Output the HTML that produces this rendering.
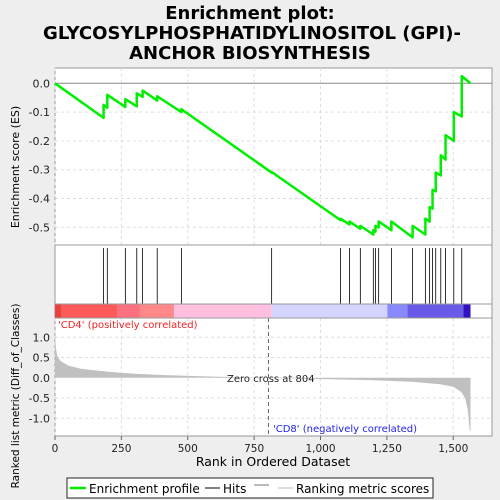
<!DOCTYPE html>
<html><head><meta charset="utf-8"><style>
body{margin:0;background:#eeeeee;}
svg{display:block;font-family:"DejaVu Sans","Liberation Sans",sans-serif;}
</style></head><body>
<svg id="chart" width="500" height="500" viewBox="0 0 500 500" xmlns="http://www.w3.org/2000/svg">
<rect x="0" y="0" width="500" height="500" fill="#eeeeee"/>
<g font-weight="bold" font-size="18" text-anchor="middle" fill="#000">
<text x="250" y="19">Enrichment plot:</text>
<text x="252" y="39" textLength="418" lengthAdjust="spacingAndGlyphs">GLYCOSYLPHOSPHATIDYLINOSITOL (GPI)-</text>
<text x="250" y="59">ANCHOR BIOSYNTHESIS</text>
</g>
<rect x="55" y="68" width="437" height="368" fill="#fff" stroke="#999"/>
<g id="grid"></g>
<g id="es"></g>
<g id="hits"></g>
<g id="cbar"></g>
<g id="metric"></g>
<line x1="55" y1="245" x2="492" y2="245" stroke="#999"/>
<line x1="55" y1="304" x2="492" y2="304" stroke="#999"/>
<line x1="55" y1="318" x2="492" y2="318" stroke="#999"/>
<g id="axes" font-size="11" fill="#222"></g>
<text x="19" y="167" font-size="11" text-anchor="middle" transform="rotate(-90 19 167)">Enrichment score (ES)</text>
<text x="19" y="396" font-size="10.5" text-anchor="middle" transform="rotate(-90 19 396)">Ranked list metric (Diff_of_Classes)</text>
<text x="273" y="466" font-size="12.5" text-anchor="middle">Rank in Ordered Dataset</text>
<text x="58" y="328" font-size="10" fill="#ee2222">'CD4' (positively correlated)</text>
<text x="273" y="432" font-size="10" fill="#2222ee">'CD8' (negatively correlated)</text>
<text x="227" y="382" font-size="10" fill="#222">Zero cross at 804</text>
<g>
<rect x="67" y="478" width="366" height="20" fill="#fff" stroke="#222"/>
<line x1="70" y1="488" x2="86" y2="488" stroke="#00ee00" stroke-width="2.5"/>
<text x="89" y="493" font-size="12">Enrichment profile</text>
<line x1="205" y1="488" x2="220" y2="488" stroke="#000"/>
<text x="223" y="493" font-size="12">Hits</text>
<line x1="254" y1="485" x2="269" y2="485" stroke="#777"/>
<line x1="278" y1="488" x2="293" y2="488" stroke="#bbb"/>
<text x="296" y="493" font-size="12">Ranking metric scores</text>
</g>
</svg>
<script>
const hitRanks=[183,197,265,308,330,385,476,816,1075,1109,1150,1199,1207,1219,1267,1347,1395,1411,1422,1434,1453,1471,1502,1532];
const esBefore=[-0.12,-0.085,-0.082,-0.08,-0.047,-0.06,-0.1,-0.31,-0.475,-0.49,-0.505,-0.525,-0.515,-0.5,-0.51,-0.535,-0.525,-0.48,-0.435,-0.375,-0.32,-0.265,-0.2,-0.115];
const esAfter=[-0.075,-0.04,-0.055,-0.035,-0.025,-0.045,-0.09,-0.308,-0.47,-0.48,-0.495,-0.51,-0.495,-0.48,-0.48,-0.495,-0.47,-0.43,-0.37,-0.31,-0.25,-0.18,-0.10,0.025];
const totalRanks=1565;
const metricRanks=[0,3,8,20,50,100,200,300,400,600,804,1000,1200,1350,1450,1500,1530,1545,1555,1562,1565];
const metricVals=[1.2,0.75,0.55,0.42,0.3,0.22,0.15,0.1,0.07,0.03,0,-0.03,-0.06,-0.1,-0.16,-0.22,-0.35,-0.5,-0.8,-1.3,-1.3];
const barEdges=[0,25,235,320,448,816,1252,1327,1538,1565];
const barColors=["#e84040","#ff5a5a","#ff7080","#ff8888","#ffc0e0","#d4d4ff","#8888ff","#6a5ae8","#3010c0"];
const xTicks=[0,250,500,750,1000,1250,1500];
const xTickLabels=["0","250","500","750","1,000","1,250","1,500"];
const esTicks=[0,-0.1,-0.2,-0.3,-0.4,-0.5];
const esTickLabels=["0.0","-0.1","-0.2","-0.3","-0.4","-0.5"];
const mTicks=[1,0.5,0,-0.5,-1];
const mTickLabels=["1.0","0.5","0.0","-0.5","-1.0"];
const zeroCross=804;

const NS="http://www.w3.org/2000/svg";
const X=r=>55+r*0.2655;
const YE=v=>83.3-v*288;
const YM=v=>377.8-v*40.5;
function mk(tag,attrs,parent){const e=document.createElementNS(NS,tag);for(const k in attrs)e.setAttribute(k,attrs[k]);parent.appendChild(e);return e;}
const grid=document.getElementById('grid'),axes=document.getElementById('axes');
xTicks.forEach((t,i)=>{
  [[68,245],[318,436]].forEach(([a,b])=>{const l=mk('line',{x1:X(t),x2:X(t),y1:a,y2:b,stroke:'#ddd','stroke-dasharray':'3,3'},grid);
  
  });
  const tk=mk('line',{x1:X(t),x2:X(t),y1:436,y2:440,stroke:'#666'},axes);
  
  
  const tx=mk('text',{x:X(t),y:452,'text-anchor':'middle','font-size':'10.5'},axes);tx.textContent=xTickLabels[i];
  
  
});
esTicks.forEach((t,i)=>{
  if(t!==0){const l=mk('line',{x1:55,x2:492,y1:YE(t),y2:YE(t),stroke:'#ddd','stroke-dasharray':'3,3'},grid);
  
  }
  const tx=mk('text',{x:50,y:YE(t)+4,'text-anchor':'end'},axes);tx.textContent=esTickLabels[i];
  
  
});
mTicks.forEach((t,i)=>{
  if(t!==0){const l=mk('line',{x1:55,x2:492,y1:YM(t),y2:YM(t),stroke:'#ddd','stroke-dasharray':'3,3'},grid);
  
  }
  const tx=mk('text',{x:50,y:YM(t)+4,'text-anchor':'end'},axes);tx.textContent=mTickLabels[i];
  
  
});
const es=document.getElementById('es');
const z=mk('line',{x1:55,x2:492,y1:YE(0),y2:YE(0),stroke:'#888'},es);


let pts=[[X(0),YE(0)]];
hitRanks.forEach((r,i)=>{pts.push([X(r),YE(esBefore[i])]);pts.push([X(r),YE(esAfter[i])]);});
pts.push([X(totalRanks),YE(0)]);
const pl=mk('polyline',{points:pts.map(p=>p.join(',')).join(' '),fill:'none',stroke:'#00ee00','stroke-width':2.5,'stroke-linejoin':'round'},es);


const hits=document.getElementById('hits');
hitRanks.forEach(r=>{const l=mk('line',{x1:X(r),x2:X(r),y1:248,y2:304,stroke:'#000','stroke-width':0.8},hits);
  
  });
const cbar=document.getElementById('cbar');
barColors.forEach((c,i)=>{const r=mk('rect',{x:X(barEdges[i]),y:304.5,width:X(barEdges[i+1])-X(barEdges[i]),height:13,fill:c},cbar);
  
  });
const metric=document.getElementById('metric');
let mp=[[X(0),YM(0)]];metricRanks.forEach((r,i)=>mp.push([X(r),YM(metricVals[i])]));mp.push([X(totalRanks),YM(0)]);
const ar=mk('polygon',{points:mp.map(p=>p.join(',')).join(' '),fill:'#c0c0c0'},metric);


const zl=mk('line',{x1:X(zeroCross),x2:X(zeroCross),y1:318,y2:436,stroke:'#666','stroke-dasharray':'4,3'},metric);


</script>
</body></html>
